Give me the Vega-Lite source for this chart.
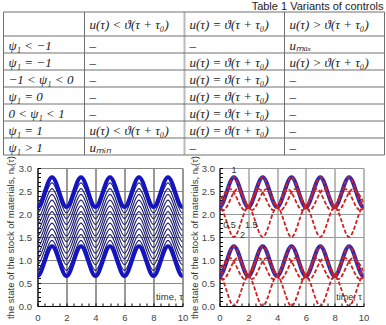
{
  "$schema": "https://vega.github.io/schema/vega-lite/v6.json",
  "padding": {"left": 2.5, "top": 0, "right": 0, "bottom": 0},
  "config": {"view": {"stroke": null}, "font": "Liberation Sans"},
  "bounds": "flush",
  "spacing": 13,
  "datasets": {
    "vl": [{"c": 0}, {"c": 1}, {"c": 2}, {"c": 3}, {"c": 4}],
    "hl": [{"r": 0}, {"r": 1}, {"r": 2}, {"r": 3}, {"r": 4}, {"r": 5}, {"r": 6}, {"r": 7}, {"r": 8}],
    "cells": [
      {"c": 1, "r": 0.5, "t": "u(τ) < ϑ(τ + τ₀)"},
      {"c": 2, "r": 0.5, "t": "u(τ) = ϑ(τ + τ₀)"},
      {"c": 3, "r": 0.5, "t": "u(τ) > ϑ(τ + τ₀)"},
      {"c": 0, "r": 1.5, "t": "ψ₁ < −1"},
      {"c": 1, "r": 1.5, "t": "–"},
      {"c": 2, "r": 1.5, "t": "–"},
      {"c": 3, "r": 1.5, "t": "uₘₐₓ"},
      {"c": 0, "r": 2.5, "t": "ψ₁ = −1"},
      {"c": 1, "r": 2.5, "t": "–"},
      {"c": 2, "r": 2.5, "t": "u(τ) = ϑ(τ + τ₀)"},
      {"c": 3, "r": 2.5, "t": "u(τ) > ϑ(τ + τ₀)"},
      {"c": 0, "r": 3.5, "t": "−1 < ψ₁ < 0"},
      {"c": 1, "r": 3.5, "t": "–"},
      {"c": 2, "r": 3.5, "t": "u(τ) = ϑ(τ + τ₀)"},
      {"c": 3, "r": 3.5, "t": "–"},
      {"c": 0, "r": 4.5, "t": "ψ₁ = 0"},
      {"c": 1, "r": 4.5, "t": "–"},
      {"c": 2, "r": 4.5, "t": "u(τ) = ϑ(τ + τ₀)"},
      {"c": 3, "r": 4.5, "t": "–"},
      {"c": 0, "r": 5.5, "t": "0 < ψ₁ < 1"},
      {"c": 1, "r": 5.5, "t": "–"},
      {"c": 2, "r": 5.5, "t": "u(τ) = ϑ(τ + τ₀)"},
      {"c": 3, "r": 5.5, "t": "–"},
      {"c": 0, "r": 6.5, "t": "ψ₁ = 1"},
      {"c": 1, "r": 6.5, "t": "u(τ) < ϑ(τ + τ₀)"},
      {"c": 2, "r": 6.5, "t": "u(τ) = ϑ(τ + τ₀)"},
      {"c": 3, "r": 6.5, "t": "–"},
      {"c": 0, "r": 7.5, "t": "ψ₁ > 1"},
      {"c": 1, "r": 7.5, "t": "uₘᵢₙ"},
      {"c": 2, "r": 7.5, "t": "–"},
      {"c": 3, "r": 7.5, "t": "–"}
    ],
    "left": [
      {"k":1,"x":-1,"y":1.3},{"k":1,"x":0,"y":0.65},{"k":1,"x":1,"y":1.3},{"k":1,"x":2,"y":0.65},{"k":1,"x":3,"y":1.3},{"k":1,"x":4,"y":0.65},{"k":1,"x":5,"y":1.3},{"k":1,"x":6,"y":0.65},{"k":1,"x":7,"y":1.3},{"k":1,"x":8,"y":0.65},{"k":1,"x":9,"y":1.3},{"k":1,"x":10,"y":0.65},{"k":1,"x":11,"y":1.3},
      {"k":2,"x":-1,"y":1.425},{"k":2,"x":0,"y":0.775},{"k":2,"x":1,"y":1.425},{"k":2,"x":2,"y":0.775},{"k":2,"x":3,"y":1.425},{"k":2,"x":4,"y":0.775},{"k":2,"x":5,"y":1.425},{"k":2,"x":6,"y":0.775},{"k":2,"x":7,"y":1.425},{"k":2,"x":8,"y":0.775},{"k":2,"x":9,"y":1.425},{"k":2,"x":10,"y":0.775},{"k":2,"x":11,"y":1.425},
      {"k":3,"x":-1,"y":1.55},{"k":3,"x":0,"y":0.9},{"k":3,"x":1,"y":1.55},{"k":3,"x":2,"y":0.9},{"k":3,"x":3,"y":1.55},{"k":3,"x":4,"y":0.9},{"k":3,"x":5,"y":1.55},{"k":3,"x":6,"y":0.9},{"k":3,"x":7,"y":1.55},{"k":3,"x":8,"y":0.9},{"k":3,"x":9,"y":1.55},{"k":3,"x":10,"y":0.9},{"k":3,"x":11,"y":1.55},
      {"k":4,"x":-1,"y":1.675},{"k":4,"x":0,"y":1.025},{"k":4,"x":1,"y":1.675},{"k":4,"x":2,"y":1.025},{"k":4,"x":3,"y":1.675},{"k":4,"x":4,"y":1.025},{"k":4,"x":5,"y":1.675},{"k":4,"x":6,"y":1.025},{"k":4,"x":7,"y":1.675},{"k":4,"x":8,"y":1.025},{"k":4,"x":9,"y":1.675},{"k":4,"x":10,"y":1.025},{"k":4,"x":11,"y":1.675},
      {"k":5,"x":-1,"y":1.8},{"k":5,"x":0,"y":1.15},{"k":5,"x":1,"y":1.8},{"k":5,"x":2,"y":1.15},{"k":5,"x":3,"y":1.8},{"k":5,"x":4,"y":1.15},{"k":5,"x":5,"y":1.8},{"k":5,"x":6,"y":1.15},{"k":5,"x":7,"y":1.8},{"k":5,"x":8,"y":1.15},{"k":5,"x":9,"y":1.8},{"k":5,"x":10,"y":1.15},{"k":5,"x":11,"y":1.8},
      {"k":6,"x":-1,"y":1.925},{"k":6,"x":0,"y":1.275},{"k":6,"x":1,"y":1.925},{"k":6,"x":2,"y":1.275},{"k":6,"x":3,"y":1.925},{"k":6,"x":4,"y":1.275},{"k":6,"x":5,"y":1.925},{"k":6,"x":6,"y":1.275},{"k":6,"x":7,"y":1.925},{"k":6,"x":8,"y":1.275},{"k":6,"x":9,"y":1.925},{"k":6,"x":10,"y":1.275},{"k":6,"x":11,"y":1.925},
      {"k":7,"x":-1,"y":2.05},{"k":7,"x":0,"y":1.4},{"k":7,"x":1,"y":2.05},{"k":7,"x":2,"y":1.4},{"k":7,"x":3,"y":2.05},{"k":7,"x":4,"y":1.4},{"k":7,"x":5,"y":2.05},{"k":7,"x":6,"y":1.4},{"k":7,"x":7,"y":2.05},{"k":7,"x":8,"y":1.4},{"k":7,"x":9,"y":2.05},{"k":7,"x":10,"y":1.4},{"k":7,"x":11,"y":2.05},
      {"k":8,"x":-1,"y":2.175},{"k":8,"x":0,"y":1.525},{"k":8,"x":1,"y":2.175},{"k":8,"x":2,"y":1.525},{"k":8,"x":3,"y":2.175},{"k":8,"x":4,"y":1.525},{"k":8,"x":5,"y":2.175},{"k":8,"x":6,"y":1.525},{"k":8,"x":7,"y":2.175},{"k":8,"x":8,"y":1.525},{"k":8,"x":9,"y":2.175},{"k":8,"x":10,"y":1.525},{"k":8,"x":11,"y":2.175},
      {"k":9,"x":-1,"y":2.3},{"k":9,"x":0,"y":1.65},{"k":9,"x":1,"y":2.3},{"k":9,"x":2,"y":1.65},{"k":9,"x":3,"y":2.3},{"k":9,"x":4,"y":1.65},{"k":9,"x":5,"y":2.3},{"k":9,"x":6,"y":1.65},{"k":9,"x":7,"y":2.3},{"k":9,"x":8,"y":1.65},{"k":9,"x":9,"y":2.3},{"k":9,"x":10,"y":1.65},{"k":9,"x":11,"y":2.3},
      {"k":10,"x":-1,"y":2.425},{"k":10,"x":0,"y":1.775},{"k":10,"x":1,"y":2.425},{"k":10,"x":2,"y":1.775},{"k":10,"x":3,"y":2.425},{"k":10,"x":4,"y":1.775},{"k":10,"x":5,"y":2.425},{"k":10,"x":6,"y":1.775},{"k":10,"x":7,"y":2.425},{"k":10,"x":8,"y":1.775},{"k":10,"x":9,"y":2.425},{"k":10,"x":10,"y":1.775},{"k":10,"x":11,"y":2.425},
      {"k":11,"x":-1,"y":2.55},{"k":11,"x":0,"y":1.9},{"k":11,"x":1,"y":2.55},{"k":11,"x":2,"y":1.9},{"k":11,"x":3,"y":2.55},{"k":11,"x":4,"y":1.9},{"k":11,"x":5,"y":2.55},{"k":11,"x":6,"y":1.9},{"k":11,"x":7,"y":2.55},{"k":11,"x":8,"y":1.9},{"k":11,"x":9,"y":2.55},{"k":11,"x":10,"y":1.9},{"k":11,"x":11,"y":2.55},
      {"k":12,"x":-1,"y":2.675},{"k":12,"x":0,"y":2.025},{"k":12,"x":1,"y":2.675},{"k":12,"x":2,"y":2.025},{"k":12,"x":3,"y":2.675},{"k":12,"x":4,"y":2.025},{"k":12,"x":5,"y":2.675},{"k":12,"x":6,"y":2.025},{"k":12,"x":7,"y":2.675},{"k":12,"x":8,"y":2.025},{"k":12,"x":9,"y":2.675},{"k":12,"x":10,"y":2.025},{"k":12,"x":11,"y":2.675},
      {"k":13,"x":-1,"y":2.8},{"k":13,"x":0,"y":2.15},{"k":13,"x":1,"y":2.8},{"k":13,"x":2,"y":2.15},{"k":13,"x":3,"y":2.8},{"k":13,"x":4,"y":2.15},{"k":13,"x":5,"y":2.8},{"k":13,"x":6,"y":2.15},{"k":13,"x":7,"y":2.8},{"k":13,"x":8,"y":2.15},{"k":13,"x":9,"y":2.8},{"k":13,"x":10,"y":2.15},{"k":13,"x":11,"y":2.8}
    ],
    "right": [
      {"g":"u","k":"1","x":-1,"y":2.8},{"g":"u","k":"1","x":0,"y":2.15},{"g":"u","k":"1","x":1,"y":2.8},{"g":"u","k":"1","x":2,"y":2.15},{"g":"u","k":"1","x":3,"y":2.8},{"g":"u","k":"1","x":4,"y":2.15},{"g":"u","k":"1","x":5,"y":2.8},{"g":"u","k":"1","x":6,"y":2.15},{"g":"u","k":"1","x":7,"y":2.8},{"g":"u","k":"1","x":8,"y":2.15},{"g":"u","k":"1","x":9,"y":2.8},{"g":"u","k":"1","x":10,"y":2.15},{"g":"u","k":"1","x":11,"y":2.8},
      {"g":"l","k":"1","x":-1,"y":1.3},{"g":"l","k":"1","x":0,"y":0.65},{"g":"l","k":"1","x":1,"y":1.3},{"g":"l","k":"1","x":2,"y":0.65},{"g":"l","k":"1","x":3,"y":1.3},{"g":"l","k":"1","x":4,"y":0.65},{"g":"l","k":"1","x":5,"y":1.3},{"g":"l","k":"1","x":6,"y":0.65},{"g":"l","k":"1","x":7,"y":1.3},{"g":"l","k":"1","x":8,"y":0.65},{"g":"l","k":"1","x":9,"y":1.3},{"g":"l","k":"1","x":10,"y":0.65},{"g":"l","k":"1","x":11,"y":1.3},
      {"g":"u","k":"2","x":-1,"y":1.5},{"g":"u","k":"2","x":0,"y":2.15},{"g":"u","k":"2","x":1,"y":1.5},{"g":"u","k":"2","x":2,"y":2.15},{"g":"u","k":"2","x":3,"y":1.5},{"g":"u","k":"2","x":4,"y":2.15},{"g":"u","k":"2","x":5,"y":1.5},{"g":"u","k":"2","x":6,"y":2.15},{"g":"u","k":"2","x":7,"y":1.5},{"g":"u","k":"2","x":8,"y":2.15},{"g":"u","k":"2","x":9,"y":1.5},{"g":"u","k":"2","x":10,"y":2.15},{"g":"u","k":"2","x":11,"y":1.5},
      {"g":"l","k":"2","x":-1,"y":0},{"g":"l","k":"2","x":0,"y":0.65},{"g":"l","k":"2","x":1,"y":0},{"g":"l","k":"2","x":2,"y":0.65},{"g":"l","k":"2","x":3,"y":0},{"g":"l","k":"2","x":4,"y":0.65},{"g":"l","k":"2","x":5,"y":0},{"g":"l","k":"2","x":6,"y":0.65},{"g":"l","k":"2","x":7,"y":0},{"g":"l","k":"2","x":8,"y":0.65},{"g":"l","k":"2","x":9,"y":0},{"g":"l","k":"2","x":10,"y":0.65},{"g":"l","k":"2","x":11,"y":0},
      {"g":"u","k":"0.5","x":-0.75,"y":2.542},{"g":"u","k":"0.5","x":0.25,"y":2.083},{"g":"u","k":"0.5","x":1.25,"y":2.542},{"g":"u","k":"0.5","x":2.25,"y":2.083},{"g":"u","k":"0.5","x":3.25,"y":2.542},{"g":"u","k":"0.5","x":4.25,"y":2.083},{"g":"u","k":"0.5","x":5.25,"y":2.542},{"g":"u","k":"0.5","x":6.25,"y":2.083},{"g":"u","k":"0.5","x":7.25,"y":2.542},{"g":"u","k":"0.5","x":8.25,"y":2.083},{"g":"u","k":"0.5","x":9.25,"y":2.542},{"g":"u","k":"0.5","x":10.25,"y":2.083},
      {"g":"u","k":"1.5","x":-0.25,"y":2.083},{"g":"u","k":"1.5","x":0.75,"y":2.542},{"g":"u","k":"1.5","x":1.75,"y":2.083},{"g":"u","k":"1.5","x":2.75,"y":2.542},{"g":"u","k":"1.5","x":3.75,"y":2.083},{"g":"u","k":"1.5","x":4.75,"y":2.542},{"g":"u","k":"1.5","x":5.75,"y":2.083},{"g":"u","k":"1.5","x":6.75,"y":2.542},{"g":"u","k":"1.5","x":7.75,"y":2.083},{"g":"u","k":"1.5","x":8.75,"y":2.542},{"g":"u","k":"1.5","x":9.75,"y":2.083},{"g":"u","k":"1.5","x":10.75,"y":2.542},
      {"g":"l","k":"0.5","x":-0.75,"y":1.042},{"g":"l","k":"0.5","x":0.25,"y":0.583},{"g":"l","k":"0.5","x":1.25,"y":1.042},{"g":"l","k":"0.5","x":2.25,"y":0.583},{"g":"l","k":"0.5","x":3.25,"y":1.042},{"g":"l","k":"0.5","x":4.25,"y":0.583},{"g":"l","k":"0.5","x":5.25,"y":1.042},{"g":"l","k":"0.5","x":6.25,"y":0.583},{"g":"l","k":"0.5","x":7.25,"y":1.042},{"g":"l","k":"0.5","x":8.25,"y":0.583},{"g":"l","k":"0.5","x":9.25,"y":1.042},{"g":"l","k":"0.5","x":10.25,"y":0.583},
      {"g":"l","k":"1.5","x":-0.25,"y":0.583},{"g":"l","k":"1.5","x":0.75,"y":1.042},{"g":"l","k":"1.5","x":1.75,"y":0.583},{"g":"l","k":"1.5","x":2.75,"y":1.042},{"g":"l","k":"1.5","x":3.75,"y":0.583},{"g":"l","k":"1.5","x":4.75,"y":1.042},{"g":"l","k":"1.5","x":5.75,"y":0.583},{"g":"l","k":"1.5","x":6.75,"y":1.042},{"g":"l","k":"1.5","x":7.75,"y":0.583},{"g":"l","k":"1.5","x":8.75,"y":1.042},{"g":"l","k":"1.5","x":9.75,"y":0.583},{"g":"l","k":"1.5","x":10.75,"y":1.042}
    ],
    "rlabels": [
      {"t":"1","x":1.0,"y":2.95},
      {"t":"0.5","x":0.7,"y":1.76},
      {"t":"1.5","x":2.2,"y":1.76},
      {"t":"2","x":1.6,"y":1.54},
      {"t":"time, τ","x":9.0,"y":0.2}
    ]
  },
  "vconcat": [
    {
      "width": 347,
      "height": 155,
      "layer": [
        {
          "data": {"name": "vl"},
          "mark": {"type": "rule"},
          "encoding": {
            "x": {"field": "c", "type": "quantitative", "scale": {"domain": [0, 1, 4], "range": [-34, 47, 347], "nice": false, "zero": false}, "axis": null},
            "y": {"datum": 0, "type": "quantitative", "scale": {"domain": [-0.5, 0, 1, 8], "range": [0, 12, 36, 155], "nice": false, "zero": false}, "axis": null},
            "y2": {"datum": 8},
            "color": {"condition": {"test": "datum.c === 2", "value": "#bbbbbb"}, "value": "#707070"},
            "strokeWidth": {"condition": {"test": "datum.c === 2", "value": 2}, "value": 1}
          }
        },
        {
          "data": {"name": "hl"},
          "mark": {"type": "rule", "color": "#707070"},
          "encoding": {
            "y": {"field": "r", "type": "quantitative"},
            "x": {"datum": 0, "type": "quantitative"},
            "x2": {"datum": 4}
          }
        },
        {
          "data": {"name": "cells"},
          "mark": {"type": "text", "align": "left", "baseline": "middle", "dx": 5, "dy": 1, "font": "Liberation Serif", "fontSize": 13, "fontStyle": "italic", "color": "#222222"},
          "encoding": {
            "x": {"field": "c", "type": "quantitative"},
            "y": {"field": "r", "type": "quantitative"},
            "text": {"field": "t"}
          }
        },
        {
          "data": {"values": [{"t": "Table 1   Variants of controls"}]},
          "mark": {"type": "text", "align": "right", "baseline": "alphabetic", "dx": -1, "font": "Liberation Sans", "fontSize": 11, "color": "#222222"},
          "encoding": {
            "x": {"datum": 4, "type": "quantitative"},
            "y": {"datum": -0.07, "type": "quantitative"},
            "text": {"field": "t"}
          }
        }
      ]
    },
    {
      "hconcat": [
        {
          "width": 145,
          "height": 138,
          "data": {"name": "left"},
          "encoding": {
            "x": {"field": "x", "type": "quantitative", "scale": {"domain": [0, 10], "nice": false, "zero": false},
              "axis": {"values": [0,0.5,1,1.5,2,2.5,3,3.5,4,4.5,5,5.5,6,6.5,7,7.5,8,8.5,9,9.5,10],
                "labelExpr": "datum.value % 2 === 0 ? '' + datum.value : ''",
                "labelOverlap": false, "labelFlush": false, "title": null,
                "grid": true, "gridColor": "#333333",
                "gridOpacity": {"condition": {"test": "datum.value % 2 === 0", "value": 1}, "value": 0},
                "domainColor": "#000000", "tickColor": "#000000", "tickSize": -3, "labelPadding": 9,
                "labelFontSize": 9.5, "labelColor": "#444444", "labelFont": "Liberation Sans"}},
            "y": {"field": "y", "type": "quantitative", "scale": {"domain": [0, 3], "nice": false, "zero": false},
              "axis": {"values": [0,0.1,0.2,0.3,0.4,0.5,0.6,0.7,0.8,0.9,1,1.1,1.2,1.3,1.4,1.5,1.6,1.7,1.8,1.9,2,2.1,2.2,2.3,2.4,2.5,2.6,2.7,2.8,2.9,3],
                "labelExpr": "abs(datum.value*2 - round(datum.value*2)) < 0.001 ? format(datum.value, '.1f') : ''",
                "labelOverlap": false, "labelFlush": false,
                "grid": true, "gridColor": "#888888",
                "gridOpacity": {"condition": {"test": "abs(datum.value*2 - round(datum.value*2)) < 0.001", "value": 1}, "value": 0},
                "domainColor": "#000000", "tickColor": "#000000", "tickSize": -3, "labelPadding": 9,
                "labelFontSize": 9.5, "labelColor": "#444444", "labelFont": "Liberation Sans",
                "title": "the state of the stock of materials,  nₖ(τ)", "titleFontSize": 9.5, "titleFontWeight": "normal",
                "titleColor": "#333333", "titleFont": "Liberation Sans", "titlePadding": 3}}
          },
          "layer": [
            {"mark": {"type": "line", "interpolate": "monotone", "clip": true, "color": "#1c1c70", "strokeWidth": 1.2}, "encoding": {"detail": {"field": "k"}}},
            {"transform": [{"filter": {"field": "k", "oneOf": [1, 13]}}], "mark": {"type": "line", "interpolate": "monotone", "clip": true, "color": "#1414c0", "strokeWidth": 4}, "encoding": {"detail": {"field": "k"}}},
            {"data": {"values": [{"x": 9.1, "y": 0.2, "t": "time, τ"}]}, "mark": {"type": "text", "fontSize": 9.5, "color": "#333333", "font": "Liberation Sans"}, "encoding": {"text": {"field": "t"}}}
          ]
        },
        {
          "width": 144,
          "height": 138,
          "data": {"name": "right"},
          "encoding": {
            "x": {"field": "x", "type": "quantitative", "scale": {"domain": [0, 10], "nice": false, "zero": false},
              "axis": {"values": [0,0.5,1,1.5,2,2.5,3,3.5,4,4.5,5,5.5,6,6.5,7,7.5,8,8.5,9,9.5,10],
                "labelExpr": "datum.value % 2 === 0 ? '' + datum.value : ''",
                "labelOverlap": false, "labelFlush": false, "title": null,
                "grid": true, "gridColor": "#777777",
                "gridOpacity": {"condition": {"test": "datum.value % 2 === 0", "value": 1}, "value": 0},
                "domainColor": "#000000", "tickColor": "#000000", "tickSize": -3, "labelPadding": 9,
                "labelFontSize": 9.5, "labelColor": "#444444", "labelFont": "Liberation Sans"}},
            "y": {"field": "y", "type": "quantitative", "scale": {"domain": [0, 3], "nice": false, "zero": false},
              "axis": {"values": [0,0.1,0.2,0.3,0.4,0.5,0.6,0.7,0.8,0.9,1,1.1,1.2,1.3,1.4,1.5,1.6,1.7,1.8,1.9,2,2.1,2.2,2.3,2.4,2.5,2.6,2.7,2.8,2.9,3],
                "labelExpr": "abs(datum.value*2 - round(datum.value*2)) < 0.001 ? format(datum.value, '.1f') : ''",
                "labelOverlap": false, "labelFlush": false,
                "grid": true, "gridColor": "#999999",
                "gridOpacity": {"condition": {"test": "abs(datum.value*2 - round(datum.value*2)) < 0.001", "value": 1}, "value": 0},
                "domainColor": "#000000", "tickColor": "#000000", "tickSize": -3, "labelPadding": 8,
                "labelFontSize": 9.5, "labelColor": "#444444", "labelFont": "Liberation Sans",
                "title": "the state of the stock of materials,  nₖ(τ)", "titleFontSize": 9.5, "titleFontWeight": "normal",
                "titleColor": "#333333", "titleFont": "Liberation Sans", "titlePadding": 2}}
          },
          "layer": [
            {"transform": [{"filter": "datum.k === '1'"}], "mark": {"type": "line", "interpolate": "monotone", "clip": true, "color": "#2a2ab4", "strokeWidth": 4}, "encoding": {"detail": {"field": "g"}}},
            {"mark": {"type": "line", "interpolate": "monotone", "clip": true, "color": "#d02020", "strokeWidth": 1.8, "strokeDash": [4, 2]}, "encoding": {"detail": [{"field": "g"}, {"field": "k"}]}},
            {"data": {"name": "rlabels"}, "mark": {"type": "text", "fontSize": 9, "color": "#333333", "font": "Liberation Sans"}, "encoding": {"text": {"field": "t"}}}
          ]
        }
      ],
      "spacing": 37,
      "bounds": "flush"
    }
  ]
}
